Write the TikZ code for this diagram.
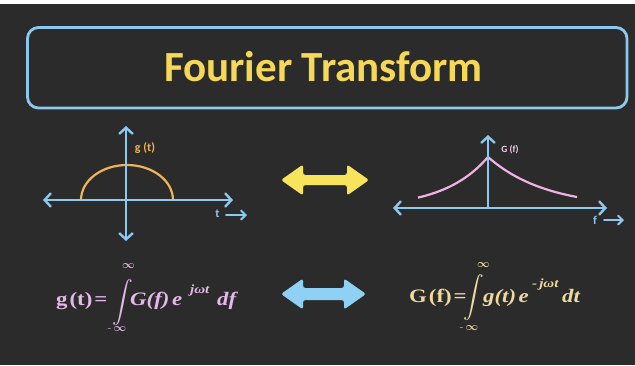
\documentclass[tikz,border=0pt]{standalone}
\usepackage{fontspec}
\usepackage{amsmath}
\usetikzlibrary{arrows.meta}
\newfontfamily\titlefont{Carlito}
\newfontfamily\formfont[FakeStretch=1.2]{Liberation Serif}
\definecolor{bgc}{HTML}{2B2B2B}
\definecolor{axisblue}{HTML}{8DC8EE}
\definecolor{titleyellow}{HTML}{F6D856}
\definecolor{arrowyellow}{HTML}{F8E45C}
\definecolor{arrowblue}{HTML}{8FD0F5}
\definecolor{curveorange}{HTML}{EFB35A}
\definecolor{curvepink}{HTML}{F0B2E2}
\definecolor{formpink}{HTML}{E6B8EA}
\definecolor{formcream}{HTML}{EEDB9C}
\tikzset{
  axisline/.style={draw=axisblue, line width=2.4pt, line cap=round,
     arrows={Straight Barb[length=6pt,width=13pt,line width=2.4pt,line cap=round]-Straight Barb[length=6pt,width=13pt,line width=2.4pt,line cap=round]}},
  axisup/.style={draw=axisblue, line width=2.4pt, line cap=round,
     arrows={-Straight Barb[length=6pt,width=13pt,line width=2.4pt,line cap=round]}},
  smallarrow/.style={draw=axisblue, line width=2pt, line cap=round,
     arrows={-Straight Barb[length=4.5pt,width=9pt,line width=2pt,line cap=round]}},
  bigarrow/.style={rounded corners=2.5pt},
  fpart/.style={inner sep=0pt, anchor=base west, font=\formfont\bfseries\fontsize{19}{22}\selectfont},
  fitalic/.style={inner sep=0pt, anchor=base west, font=\formfont\bfseries\itshape\fontsize{19}{22}\selectfont},
  fsup/.style={inner sep=0pt, anchor=base west, font=\formfont\bfseries\itshape\fontsize{12.5}{14}\selectfont},
  fint/.style={inner sep=0pt, font=\fontsize{21}{24}\selectfont\boldmath},
  flim/.style={inner sep=0pt, font=\fontsize{11}{13}\selectfont\boldmath},
  lbl/.style={inner sep=0pt, font=\titlefont\bfseries}
}
\begin{document}
\begin{tikzpicture}[x=1pt,y=-1pt]
\useasboundingbox (0,0) rectangle (635,365);
\fill[white] (0,0) rectangle (635,365);
\fill[bgc] (0,3.5) rectangle (635,365);
% title
\draw[axisblue, line width=2.8pt, rounded corners=11pt] (27.5,27.5) rectangle (627,108);
\node[lbl, text=titleyellow, font=\titlefont\bfseries\fontsize{43}{48}\selectfont] (title) at (323.5,67) {Fourier Transform};
% left graph
\coordinate (lx1) at (43,200); \coordinate (lx2) at (233,200);
\coordinate (ly1) at (126,126); \coordinate (ly2) at (126,241);
\draw[curveorange, line width=2.2pt] (81,200) arc[start angle=180, end angle=360, x radius=46, y radius=35];
\draw[axisline] (lx1) -- (lx2);
\draw[axisline] (ly2) -- (ly1);
\node[lbl, text=curveorange, font=\titlefont\bfseries\fontsize{12}{14}\selectfont] (gt) at (145,148) {g (t)};
\node[lbl, text=axisblue, font=\titlefont\bfseries\fontsize{12}{14}\selectfont] (tl) at (217.5,214) {t};
\coordinate (ta1) at (226,215); \coordinate (ta2) at (247,215);
\draw[smallarrow] (ta1) -- (ta2);
% right graph
\coordinate (rx1) at (393,208); \coordinate (rx2) at (607,208);
\coordinate (ry1) at (488,208); \coordinate (ry2) at (488,135);
\draw[curvepink, line width=2.2pt] plot[domain=0:70, samples=40] ({488-\x},{208-51*exp(-\x/44)});
\draw[curvepink, line width=2.2pt] plot[domain=0:89, samples=40] ({488+\x},{208-51*exp(-\x/58)});
\draw[axisline] (rx1) -- (rx2);
\draw[axisup] (ry1) -- (ry2);
\node[lbl, text=curvepink!60!white, font=\titlefont\bfseries\fontsize{9.5}{11}\selectfont] (Gf) at (510,150) {G (f)};
\node[lbl, text=axisblue, font=\titlefont\bfseries\fontsize{12}{14}\selectfont] (fl) at (595,220) {f};
\coordinate (fa1) at (604,220); \coordinate (fa2) at (624,220);
\draw[smallarrow] (fa1) -- (fa2);
% big double arrows
\fill[arrowyellow, bigarrow] (281,180) -- (303,164.5) -- (303,175) -- (347,175) -- (347,164.5) -- (369,180) -- (347,195.5) -- (347,185) -- (303,185) -- (303,195.5) -- cycle;
\fill[arrowblue, bigarrow] (281,294) -- (303,278.5) -- (303,288) -- (344,288) -- (344,278.5) -- (366,294) -- (344,309.5) -- (344,300) -- (303,300) -- (303,309.5) -- cycle;
% left formula
\node[fpart, text=formpink] (f1lhs) at (56,305) {g\kern2pt(t)\kern2pt=};
\node[fint, text=formpink] (f1int) at (122.5,303) {$\displaystyle\int$};
\node[flim, text=formpink] (f1top) at (128.5,266.5) {$\infty$};
\node[flim, text=formpink] (f1bot) at (117,329.5) {$\text{-}\,\infty$};
\node[fitalic, text=formpink] (f1G) at (130,305) {G(f)};
\node[fitalic, text=formpink] (f1e) at (172,305) {e};
\node[fsup, text=formpink] (f1s) at (190,293) {jωt};
\node[fitalic, text=formpink] (f1d) at (217,305) {df};
% right formula
\node[fpart, text=formcream] (f2lhs) at (409,302) {G\kern2pt(f)\kern2pt=};
\node[fint, text=formcream] (f2int) at (474,298) {$\displaystyle\int$};
\node[flim, text=formcream] (f2top) at (483.5,265.5) {$\infty$};
\node[flim, text=formcream] (f2bot) at (469,328) {$\text{-}\,\infty$};
\node[fitalic, text=formcream] (f2g) at (483,302) {g(t)};
\node[fitalic, text=formcream] (f2e) at (518.5,302) {e};
\node[fsup, text=formcream] (f2s) at (532,287) {-\,jωt};
\node[fitalic, text=formcream] (f2d) at (562,302) {dt};
\end{tikzpicture}
\end{document}
